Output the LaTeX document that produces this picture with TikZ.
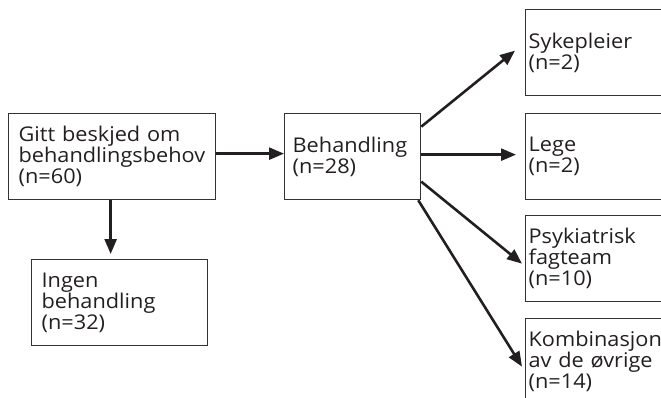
\documentclass[tikz,border=0pt]{standalone}
\usepackage{fontspec}
\setmainfont[FakeStretch=1.07]{Open Sans}
\usetikzlibrary{arrows.meta}
\definecolor{ink}{HTML}{231F20}
\definecolor{frame}{HTML}{333333}
\tikzset{
  box/.style={draw=frame, line width=1.3pt, rectangle, anchor=north west,
    align=left, minimum height=86pt, inner ysep=0pt, text=ink,
    font=\fontsize{20.3}{21}\selectfont},
  arr/.style={draw=ink, line width=2.6pt,
    -{Triangle[length=15pt,width=12pt]}}
}
\begin{document}
\begin{tikzpicture}[x=1pt,y=-1pt]
\useasboundingbox (0,0) rectangle (661,398);
\clip (0,0) rectangle (661,398);
\node[box, inner xsep=10pt, text width=187pt] (gitt) at (8,113)
  {Gitt beskjed om\\behandlingsbehov\\(n=60)};
\node[box, inner xsep=8pt, text width=120pt] (beh) at (284,113)
  {Behandling\\(n=28)};
\node[box, inner xsep=10pt, text width=156pt] (ingen) at (31,259)
  {Ingen\\behandling\\(n=32)};
\node[box, inner xsep=3pt, text width=154pt] (syk) at (525,9)
  {Sykepleier\\(n=2)};
\node[box, inner xsep=3pt, text width=154pt] (lege) at (525,113)
  {Lege\\(n=2)};
\node[box, inner xsep=3pt, text width=154pt] (psyk) at (525,215)
  {Psykiatrisk\\fagteam\\(n=10)};
\node[box, inner xsep=3pt, text width=154pt] (komb) at (525,318)
  {Kombinasjon\\av de øvrige\\(n=14)};
\draw[arr] ([yshift=3pt]gitt.east) -- ([yshift=3pt]beh.west);
\draw[arr] ([xshift=-1.5pt]gitt.south) -- ([xshift=-1.5pt,yshift=5pt]gitt.south |- ingen.north);
\draw[arr] ([yshift=30pt]beh.east) -- ([xshift=-10pt,yshift=2pt]syk.west);
\draw[arr] ([yshift=2pt]beh.east) -- ([xshift=-9pt,yshift=2pt]lege.west);
\draw[arr] ([yshift=-25pt]beh.east) -- ([xshift=-3pt,yshift=-5pt]psyk.west);
\draw[arr] ([xshift=-3pt]beh.south east) -- ([xshift=-3pt,yshift=-5pt]komb.west);
\end{tikzpicture}
\end{document}
